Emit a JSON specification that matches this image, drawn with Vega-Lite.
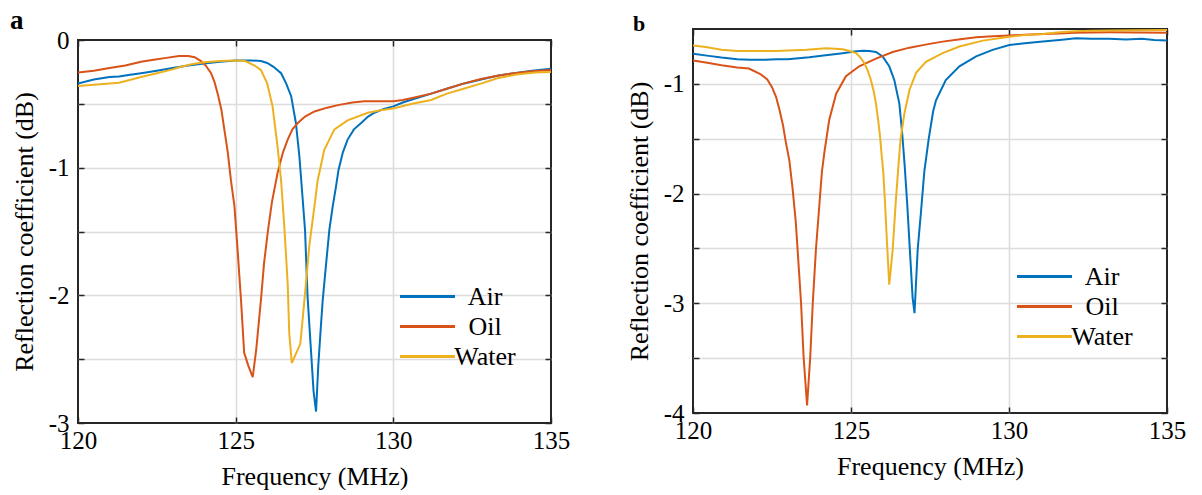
{
  "$schema": "https://vega.github.io/schema/vega-lite/v6.json",
  "padding": {"left": 10, "top": 7, "right": 0, "bottom": 0},
  "background": "white",
  "datasets": {
    "a": [
      {"freq":120,"rc":-0.34,"medium":"Air"},{"freq":120.5,"rc":-0.31,"medium":"Air"},{"freq":121,"rc":-0.29,"medium":"Air"},{"freq":121.3,"rc":-0.285,"medium":"Air"},{"freq":121.6,"rc":-0.275,"medium":"Air"},{"freq":122,"rc":-0.26,"medium":"Air"},{"freq":122.5,"rc":-0.24,"medium":"Air"},{"freq":123,"rc":-0.22,"medium":"Air"},{"freq":123.5,"rc":-0.2,"medium":"Air"},{"freq":124,"rc":-0.185,"medium":"Air"},{"freq":124.5,"rc":-0.17,"medium":"Air"},{"freq":125,"rc":-0.16,"medium":"Air"},{"freq":125.5,"rc":-0.16,"medium":"Air"},{"freq":125.8,"rc":-0.165,"medium":"Air"},{"freq":126,"rc":-0.18,"medium":"Air"},{"freq":126.2,"rc":-0.21,"medium":"Air"},{"freq":126.44,"rc":-0.26,"medium":"Air"},{"freq":126.6,"rc":-0.34,"medium":"Air"},{"freq":126.76,"rc":-0.44,"medium":"Air"},{"freq":126.91,"rc":-0.65,"medium":"Air"},{"freq":127.02,"rc":-0.91,"medium":"Air"},{"freq":127.12,"rc":-1.23,"medium":"Air"},{"freq":127.2,"rc":-1.49,"medium":"Air"},{"freq":127.28,"rc":-2.01,"medium":"Air"},{"freq":127.38,"rc":-2.4,"medium":"Air"},{"freq":127.47,"rc":-2.75,"medium":"Air"},{"freq":127.55,"rc":-2.91,"medium":"Air"},{"freq":127.62,"rc":-2.55,"medium":"Air"},{"freq":127.7,"rc":-2.25,"medium":"Air"},{"freq":127.76,"rc":-2.04,"medium":"Air"},{"freq":127.85,"rc":-1.8,"medium":"Air"},{"freq":127.97,"rc":-1.49,"medium":"Air"},{"freq":128.08,"rc":-1.3,"medium":"Air"},{"freq":128.18,"rc":-1.15,"medium":"Air"},{"freq":128.26,"rc":-1.02,"medium":"Air"},{"freq":128.4,"rc":-0.88,"medium":"Air"},{"freq":128.55,"rc":-0.78,"medium":"Air"},{"freq":128.75,"rc":-0.7,"medium":"Air"},{"freq":128.98,"rc":-0.65,"medium":"Air"},{"freq":129.2,"rc":-0.6,"medium":"Air"},{"freq":129.4,"rc":-0.57,"medium":"Air"},{"freq":129.7,"rc":-0.54,"medium":"Air"},{"freq":130,"rc":-0.52,"medium":"Air"},{"freq":130.3,"rc":-0.49,"medium":"Air"},{"freq":130.67,"rc":-0.46,"medium":"Air"},{"freq":131.2,"rc":-0.42,"medium":"Air"},{"freq":131.72,"rc":-0.38,"medium":"Air"},{"freq":132.25,"rc":-0.34,"medium":"Air"},{"freq":132.78,"rc":-0.31,"medium":"Air"},{"freq":133.3,"rc":-0.28,"medium":"Air"},{"freq":133.83,"rc":-0.26,"medium":"Air"},{"freq":134.4,"rc":-0.24,"medium":"Air"},{"freq":135,"rc":-0.225,"medium":"Air"},
      {"freq":120,"rc":-0.255,"medium":"Oil"},{"freq":120.5,"rc":-0.24,"medium":"Oil"},{"freq":121,"rc":-0.22,"medium":"Oil"},{"freq":121.5,"rc":-0.2,"medium":"Oil"},{"freq":122,"rc":-0.17,"medium":"Oil"},{"freq":122.4,"rc":-0.155,"medium":"Oil"},{"freq":122.8,"rc":-0.14,"medium":"Oil"},{"freq":123.2,"rc":-0.125,"medium":"Oil"},{"freq":123.5,"rc":-0.125,"medium":"Oil"},{"freq":123.7,"rc":-0.135,"medium":"Oil"},{"freq":123.9,"rc":-0.165,"medium":"Oil"},{"freq":124.05,"rc":-0.2,"medium":"Oil"},{"freq":124.22,"rc":-0.26,"medium":"Oil"},{"freq":124.33,"rc":-0.33,"medium":"Oil"},{"freq":124.43,"rc":-0.42,"medium":"Oil"},{"freq":124.55,"rc":-0.55,"medium":"Oil"},{"freq":124.64,"rc":-0.7,"medium":"Oil"},{"freq":124.75,"rc":-0.88,"medium":"Oil"},{"freq":124.85,"rc":-1.1,"medium":"Oil"},{"freq":124.96,"rc":-1.3,"medium":"Oil"},{"freq":125.06,"rc":-1.64,"medium":"Oil"},{"freq":125.17,"rc":-2.04,"medium":"Oil"},{"freq":125.27,"rc":-2.45,"medium":"Oil"},{"freq":125.4,"rc":-2.55,"medium":"Oil"},{"freq":125.54,"rc":-2.64,"medium":"Oil"},{"freq":125.65,"rc":-2.43,"medium":"Oil"},{"freq":125.8,"rc":-2.04,"medium":"Oil"},{"freq":125.9,"rc":-1.75,"medium":"Oil"},{"freq":126.02,"rc":-1.5,"medium":"Oil"},{"freq":126.15,"rc":-1.27,"medium":"Oil"},{"freq":126.33,"rc":-1.04,"medium":"Oil"},{"freq":126.5,"rc":-0.88,"medium":"Oil"},{"freq":126.65,"rc":-0.78,"medium":"Oil"},{"freq":126.8,"rc":-0.7,"medium":"Oil"},{"freq":126.97,"rc":-0.65,"medium":"Oil"},{"freq":127.2,"rc":-0.6,"medium":"Oil"},{"freq":127.5,"rc":-0.56,"medium":"Oil"},{"freq":127.9,"rc":-0.53,"medium":"Oil"},{"freq":128.24,"rc":-0.51,"medium":"Oil"},{"freq":128.7,"rc":-0.49,"medium":"Oil"},{"freq":129.08,"rc":-0.48,"medium":"Oil"},{"freq":129.5,"rc":-0.48,"medium":"Oil"},{"freq":130,"rc":-0.48,"medium":"Oil"},{"freq":130.3,"rc":-0.47,"medium":"Oil"},{"freq":130.67,"rc":-0.45,"medium":"Oil"},{"freq":131.2,"rc":-0.42,"medium":"Oil"},{"freq":131.72,"rc":-0.38,"medium":"Oil"},{"freq":132.25,"rc":-0.34,"medium":"Oil"},{"freq":132.78,"rc":-0.305,"medium":"Oil"},{"freq":133.3,"rc":-0.28,"medium":"Oil"},{"freq":133.83,"rc":-0.26,"medium":"Oil"},{"freq":134.4,"rc":-0.245,"medium":"Oil"},{"freq":135,"rc":-0.235,"medium":"Oil"},
      {"freq":120,"rc":-0.36,"medium":"Water"},{"freq":120.5,"rc":-0.35,"medium":"Water"},{"freq":121,"rc":-0.34,"medium":"Water"},{"freq":121.3,"rc":-0.335,"medium":"Water"},{"freq":121.7,"rc":-0.31,"medium":"Water"},{"freq":122,"rc":-0.29,"medium":"Water"},{"freq":122.5,"rc":-0.26,"medium":"Water"},{"freq":123,"rc":-0.23,"medium":"Water"},{"freq":123.27,"rc":-0.21,"medium":"Water"},{"freq":123.6,"rc":-0.19,"medium":"Water"},{"freq":124,"rc":-0.175,"medium":"Water"},{"freq":124.5,"rc":-0.165,"medium":"Water"},{"freq":125,"rc":-0.16,"medium":"Water"},{"freq":125.3,"rc":-0.165,"medium":"Water"},{"freq":125.6,"rc":-0.2,"medium":"Water"},{"freq":125.8,"rc":-0.235,"medium":"Water"},{"freq":126,"rc":-0.34,"medium":"Water"},{"freq":126.17,"rc":-0.52,"medium":"Water"},{"freq":126.33,"rc":-0.84,"medium":"Water"},{"freq":126.44,"rc":-1.1,"medium":"Water"},{"freq":126.54,"rc":-1.45,"medium":"Water"},{"freq":126.65,"rc":-1.91,"medium":"Water"},{"freq":126.7,"rc":-2.3,"medium":"Water"},{"freq":126.78,"rc":-2.53,"medium":"Water"},{"freq":127.05,"rc":-2.38,"medium":"Water"},{"freq":127.18,"rc":-2.04,"medium":"Water"},{"freq":127.34,"rc":-1.6,"medium":"Water"},{"freq":127.5,"rc":-1.3,"medium":"Water"},{"freq":127.6,"rc":-1.1,"medium":"Water"},{"freq":127.81,"rc":-0.86,"medium":"Water"},{"freq":128.13,"rc":-0.7,"medium":"Water"},{"freq":128.55,"rc":-0.63,"medium":"Water"},{"freq":129.19,"rc":-0.57,"medium":"Water"},{"freq":129.6,"rc":-0.55,"medium":"Water"},{"freq":130.03,"rc":-0.535,"medium":"Water"},{"freq":130.6,"rc":-0.5,"medium":"Water"},{"freq":131.2,"rc":-0.47,"medium":"Water"},{"freq":131.7,"rc":-0.42,"medium":"Water"},{"freq":132.25,"rc":-0.38,"medium":"Water"},{"freq":132.8,"rc":-0.34,"medium":"Water"},{"freq":133.3,"rc":-0.3,"medium":"Water"},{"freq":133.9,"rc":-0.27,"medium":"Water"},{"freq":134.5,"rc":-0.255,"medium":"Water"},{"freq":135,"rc":-0.25,"medium":"Water"}
    ],
    "b": [
      {"freq":120,"rc":-0.726,"medium":"Air"},{"freq":120.5,"rc":-0.745,"medium":"Air"},{"freq":120.9,"rc":-0.76,"medium":"Air"},{"freq":121.4,"rc":-0.775,"medium":"Air"},{"freq":121.8,"rc":-0.78,"medium":"Air"},{"freq":122.3,"rc":-0.78,"medium":"Air"},{"freq":122.63,"rc":-0.776,"medium":"Air"},{"freq":123,"rc":-0.775,"medium":"Air"},{"freq":123.68,"rc":-0.758,"medium":"Air"},{"freq":124.2,"rc":-0.74,"medium":"Air"},{"freq":124.74,"rc":-0.72,"medium":"Air"},{"freq":125.1,"rc":-0.705,"medium":"Air"},{"freq":125.37,"rc":-0.698,"medium":"Air"},{"freq":125.58,"rc":-0.7,"medium":"Air"},{"freq":125.79,"rc":-0.71,"medium":"Air"},{"freq":126,"rc":-0.75,"medium":"Air"},{"freq":126.21,"rc":-0.84,"medium":"Air"},{"freq":126.37,"rc":-0.965,"medium":"Air"},{"freq":126.53,"rc":-1.18,"medium":"Air"},{"freq":126.62,"rc":-1.45,"medium":"Air"},{"freq":126.7,"rc":-1.75,"medium":"Air"},{"freq":126.78,"rc":-2.1,"medium":"Air"},{"freq":126.86,"rc":-2.5,"medium":"Air"},{"freq":126.95,"rc":-2.95,"medium":"Air"},{"freq":127.01,"rc":-3.09,"medium":"Air"},{"freq":127.11,"rc":-2.51,"medium":"Air"},{"freq":127.22,"rc":-2.15,"medium":"Air"},{"freq":127.32,"rc":-1.8,"medium":"Air"},{"freq":127.46,"rc":-1.5,"medium":"Air"},{"freq":127.6,"rc":-1.25,"medium":"Air"},{"freq":127.69,"rc":-1.15,"medium":"Air"},{"freq":128,"rc":-0.965,"medium":"Air"},{"freq":128.43,"rc":-0.84,"medium":"Air"},{"freq":128.96,"rc":-0.75,"medium":"Air"},{"freq":129.48,"rc":-0.69,"medium":"Air"},{"freq":130.01,"rc":-0.646,"medium":"Air"},{"freq":130.5,"rc":-0.63,"medium":"Air"},{"freq":131.07,"rc":-0.615,"medium":"Air"},{"freq":131.6,"rc":-0.6,"medium":"Air"},{"freq":132.12,"rc":-0.585,"medium":"Air"},{"freq":132.6,"rc":-0.59,"medium":"Air"},{"freq":133.17,"rc":-0.59,"medium":"Air"},{"freq":133.7,"rc":-0.595,"medium":"Air"},{"freq":134.2,"rc":-0.59,"medium":"Air"},{"freq":134.6,"rc":-0.6,"medium":"Air"},{"freq":135,"rc":-0.605,"medium":"Air"},
      {"freq":120,"rc":-0.787,"medium":"Oil"},{"freq":120.5,"rc":-0.81,"medium":"Oil"},{"freq":120.9,"rc":-0.83,"medium":"Oil"},{"freq":121.4,"rc":-0.85,"medium":"Oil"},{"freq":121.77,"rc":-0.86,"medium":"Oil"},{"freq":122.13,"rc":-0.91,"medium":"Oil"},{"freq":122.35,"rc":-0.96,"medium":"Oil"},{"freq":122.5,"rc":-1.03,"medium":"Oil"},{"freq":122.63,"rc":-1.12,"medium":"Oil"},{"freq":122.74,"rc":-1.24,"medium":"Oil"},{"freq":122.85,"rc":-1.38,"medium":"Oil"},{"freq":122.93,"rc":-1.52,"medium":"Oil"},{"freq":123.05,"rc":-1.7,"medium":"Oil"},{"freq":123.15,"rc":-1.95,"medium":"Oil"},{"freq":123.25,"rc":-2.25,"medium":"Oil"},{"freq":123.31,"rc":-2.51,"medium":"Oil"},{"freq":123.42,"rc":-3,"medium":"Oil"},{"freq":123.5,"rc":-3.49,"medium":"Oil"},{"freq":123.61,"rc":-3.93,"medium":"Oil"},{"freq":123.71,"rc":-3.49,"medium":"Oil"},{"freq":123.79,"rc":-3,"medium":"Oil"},{"freq":123.89,"rc":-2.51,"medium":"Oil"},{"freq":124,"rc":-2.1,"medium":"Oil"},{"freq":124.08,"rc":-1.8,"medium":"Oil"},{"freq":124.16,"rc":-1.62,"medium":"Oil"},{"freq":124.31,"rc":-1.33,"medium":"Oil"},{"freq":124.53,"rc":-1.09,"medium":"Oil"},{"freq":124.84,"rc":-0.93,"medium":"Oil"},{"freq":125.26,"rc":-0.84,"medium":"Oil"},{"freq":125.79,"rc":-0.77,"medium":"Oil"},{"freq":126.32,"rc":-0.71,"medium":"Oil"},{"freq":126.85,"rc":-0.67,"medium":"Oil"},{"freq":127.4,"rc":-0.64,"medium":"Oil"},{"freq":127.9,"rc":-0.615,"medium":"Oil"},{"freq":128.4,"rc":-0.595,"medium":"Oil"},{"freq":128.96,"rc":-0.576,"medium":"Oil"},{"freq":129.5,"rc":-0.565,"medium":"Oil"},{"freq":130,"rc":-0.56,"medium":"Oil"},{"freq":130.5,"rc":-0.552,"medium":"Oil"},{"freq":131.07,"rc":-0.545,"medium":"Oil"},{"freq":131.6,"rc":-0.54,"medium":"Oil"},{"freq":132.1,"rc":-0.535,"medium":"Oil"},{"freq":132.6,"rc":-0.532,"medium":"Oil"},{"freq":133.2,"rc":-0.53,"medium":"Oil"},{"freq":134,"rc":-0.532,"medium":"Oil"},{"freq":135,"rc":-0.534,"medium":"Oil"},
      {"freq":120,"rc":-0.65,"medium":"Water"},{"freq":120.4,"rc":-0.665,"medium":"Water"},{"freq":120.9,"rc":-0.69,"medium":"Water"},{"freq":121.4,"rc":-0.7,"medium":"Water"},{"freq":121.77,"rc":-0.7,"medium":"Water"},{"freq":122.2,"rc":-0.7,"medium":"Water"},{"freq":122.63,"rc":-0.7,"medium":"Water"},{"freq":123,"rc":-0.696,"medium":"Water"},{"freq":123.6,"rc":-0.69,"medium":"Water"},{"freq":124.21,"rc":-0.676,"medium":"Water"},{"freq":124.5,"rc":-0.68,"medium":"Water"},{"freq":124.74,"rc":-0.685,"medium":"Water"},{"freq":124.95,"rc":-0.7,"medium":"Water"},{"freq":125.16,"rc":-0.72,"medium":"Water"},{"freq":125.3,"rc":-0.76,"medium":"Water"},{"freq":125.42,"rc":-0.81,"medium":"Water"},{"freq":125.53,"rc":-0.88,"medium":"Water"},{"freq":125.63,"rc":-0.965,"medium":"Water"},{"freq":125.72,"rc":-1.07,"medium":"Water"},{"freq":125.79,"rc":-1.18,"medium":"Water"},{"freq":125.86,"rc":-1.33,"medium":"Water"},{"freq":125.92,"rc":-1.48,"medium":"Water"},{"freq":125.97,"rc":-1.65,"medium":"Water"},{"freq":126.02,"rc":-1.8,"medium":"Water"},{"freq":126.07,"rc":-2.05,"medium":"Water"},{"freq":126.14,"rc":-2.45,"medium":"Water"},{"freq":126.21,"rc":-2.83,"medium":"Water"},{"freq":126.32,"rc":-2.51,"medium":"Water"},{"freq":126.42,"rc":-2.06,"medium":"Water"},{"freq":126.5,"rc":-1.75,"medium":"Water"},{"freq":126.57,"rc":-1.5,"medium":"Water"},{"freq":126.69,"rc":-1.27,"medium":"Water"},{"freq":126.85,"rc":-1.056,"medium":"Water"},{"freq":127.06,"rc":-0.9,"medium":"Water"},{"freq":127.37,"rc":-0.8,"medium":"Water"},{"freq":127.9,"rc":-0.72,"medium":"Water"},{"freq":128.43,"rc":-0.66,"medium":"Water"},{"freq":129.17,"rc":-0.606,"medium":"Water"},{"freq":130.01,"rc":-0.57,"medium":"Water"},{"freq":130.5,"rc":-0.555,"medium":"Water"},{"freq":131.07,"rc":-0.545,"medium":"Water"},{"freq":131.6,"rc":-0.53,"medium":"Water"},{"freq":132.1,"rc":-0.52,"medium":"Water"},{"freq":132.6,"rc":-0.515,"medium":"Water"},{"freq":133.2,"rc":-0.513,"medium":"Water"},{"freq":134,"rc":-0.512,"medium":"Water"},{"freq":135,"rc":-0.51,"medium":"Water"}
    ]
  },
  "config": {
    "font": "Liberation Serif",
    "view": {"stroke": "#262626", "strokeWidth": 2},
    "axis": {
      "labelFont": "Liberation Serif", "titleFont": "Liberation Serif",
      "labelFontSize": 25, "titleFontSize": 26, "titleFontWeight": "normal",
      "labelColor": "#000000", "titleColor": "#000000",
      "domain": false, "gridColor": "#dcdcdc", "gridWidth": 1.5,
      "tickColor": "#262626", "tickWidth": 1.5, "tickSize": -6,
      "labelFlush": false, "labelOverlap": false
    },
    "legend": {
      "labelFont": "Liberation Serif", "labelFontSize": 26, "labelColor": "#000000",
      "symbolType": "M-2,0H2", "symbolSize": 756, "symbolStrokeWidth": 3,
      "labelAlign": "center", "labelOffset": 42, "rowPadding": 1, "padding": 0
    },
    "title": {
      "font": "Liberation Serif", "fontWeight": "bold", "color": "#000000",
      "anchor": "start", "frame": "group", "baseline": "alphabetic"
    }
  },
  "spacing": 54,
  "resolve": {"scale": {"color": "independent"}, "legend": {"color": "independent"}},
  "hconcat": [
    {
      "bounds": "flush",
      "spacing": 10,
      "vconcat": [
        {
          "width": 473, "height": 1,
          "view": {"stroke": null},
          "title": {"text": "a", "dx": -68, "offset": -6, "fontSize": 27},
          "data": {"values": []},
          "mark": {"type": "point", "opacity": 0}
        },
        {
          "width": 473, "height": 383,
          "data": {"name": "a"},
          "resolve": {"axis": {"x": "independent", "y": "independent"}},
          "layer": [
            {
              "mark": {"type": "line", "strokeWidth": 2, "clip": true},
              "encoding": {
                "x": {"field": "freq", "type": "quantitative", "scale": {"domain": [120, 135], "nice": false, "zero": false},
                      "axis": {"title": "Frequency (MHz)", "values": [120, 125, 130, 135], "format": "d", "grid": true, "labelPadding": 11, "titlePadding": 10,
                               "gridOpacity": {"condition": {"test": "datum.value === 120 || datum.value === 135", "value": 0}, "value": 1}}},
                "y": {"field": "rc", "type": "quantitative", "scale": {"domain": [-3, 0], "nice": false, "zero": false},
                      "axis": {"title": "Reflection coefficient (dB)", "values": [0, -0.5, -1, -1.5, -2, -2.5, -3], "labelExpr": "datum.value % 1 === 0 ? toString(datum.value) : ''", "grid": true, "labelPadding": 15, "titlePadding": 11,
                               "gridOpacity": {"condition": {"test": "datum.value === 0 || datum.value === -3", "value": 0}, "value": 1}}},
                "color": {"field": "medium", "type": "nominal",
                          "scale": {"domain": ["Air", "Oil", "Water"], "range": ["#0072BD", "#D95319", "#EDB120"]},
                          "legend": {"title": null, "orient": "none", "legendX": 334, "legendY": 252}}
              }
            },
            {
              "mark": {"type": "line", "strokeOpacity": 0},
              "encoding": {
                "x": {"field": "freq", "type": "quantitative", "axis": {"orient": "top", "values": [120, 125, 130, 135], "labels": false, "grid": false, "title": null}},
                "y": {"field": "rc", "type": "quantitative", "axis": {"orient": "right", "values": [0, -0.5, -1, -1.5, -2, -2.5, -3], "labels": false, "grid": false, "title": null}},
                "detail": {"field": "medium", "type": "nominal"}
              }
            }
          ]
        }
      ]
    },
    {
      "width": 474, "height": 384,
      "title": {"text": "b", "dx": -60, "offset": -8, "fontSize": 22},
      "data": {"name": "b"},
      "resolve": {"axis": {"x": "independent", "y": "independent"}},
      "layer": [
        {
          "mark": {"type": "line", "strokeWidth": 2, "clip": true},
          "encoding": {
            "x": {"field": "freq", "type": "quantitative", "scale": {"domain": [120, 135], "nice": false, "zero": false},
                  "axis": {"title": "Frequency (MHz)", "values": [120, 125, 130, 135], "format": "d", "grid": true, "labelPadding": 11, "titlePadding": 10,
                           "gridOpacity": {"condition": {"test": "datum.value === 120 || datum.value === 135", "value": 0}, "value": 1}}},
            "y": {"field": "rc", "type": "quantitative", "scale": {"domain": [-4, -0.5], "nice": false, "zero": false},
                  "axis": {"title": "Reflection coefficient (dB)", "values": [-1, -1.5, -2, -2.5, -3, -3.5, -4], "labelExpr": "datum.value % 1 === 0 ? toString(datum.value) : ''", "grid": true, "labelPadding": 15, "titlePadding": 11,
                           "gridOpacity": {"condition": {"test": "datum.value === -4", "value": 0}, "value": 1}}},
            "color": {"field": "medium", "type": "nominal",
                      "scale": {"domain": ["Air", "Oil", "Water"], "range": ["#0072BD", "#D95319", "#EDB120"]},
                      "legend": {"title": null, "orient": "none", "legendX": 336, "legendY": 232}}
          }
        },
        {
          "mark": {"type": "line", "strokeOpacity": 0},
          "encoding": {
            "x": {"field": "freq", "type": "quantitative", "axis": {"orient": "top", "values": [120, 125, 130, 135], "labels": false, "grid": false, "title": null}},
            "y": {"field": "rc", "type": "quantitative", "axis": {"orient": "right", "values": [-1, -1.5, -2, -2.5, -3, -3.5, -4], "labels": false, "grid": false, "title": null}},
            "detail": {"field": "medium", "type": "nominal"}
          }
        }
      ]
    }
  ]
}
